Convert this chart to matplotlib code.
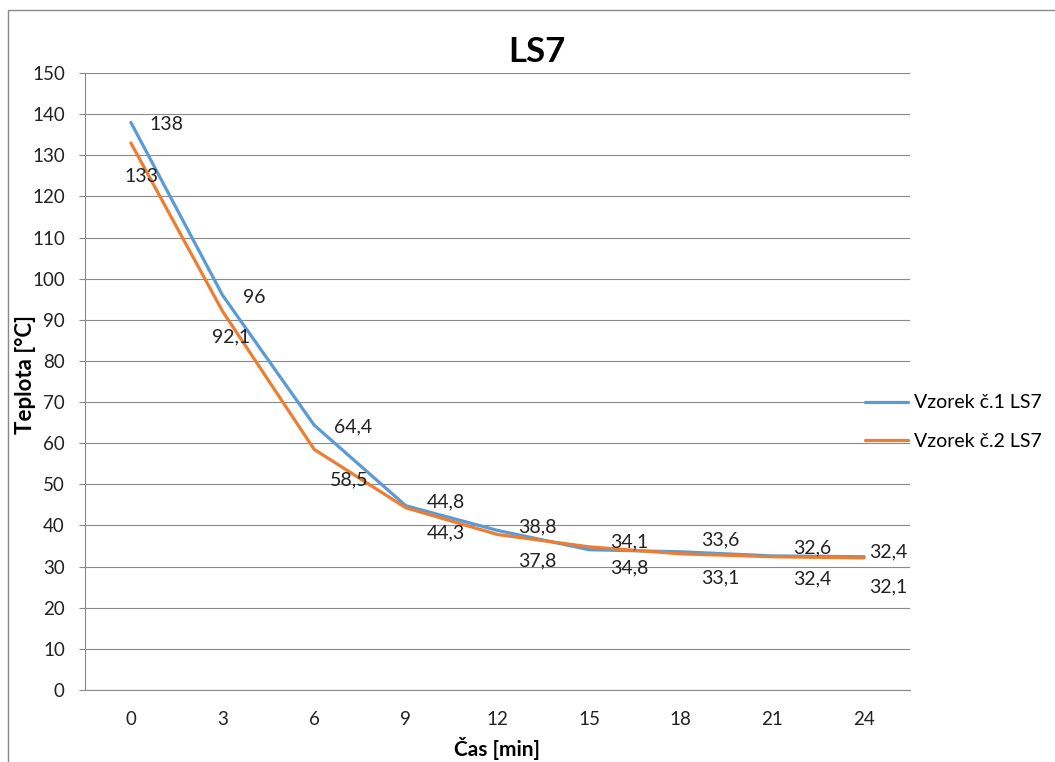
import matplotlib.pyplot as plt
from matplotlib.patches import Rectangle
import numpy as np

plt.rcParams['font.family'] = ['Lato', 'DejaVu Sans']

# data
cas = [0, 3, 6, 9, 12, 15, 18, 21, 24]
vzorek1 = [138, 96, 64.4, 44.8, 38.8, 34.1, 33.6, 32.6, 32.4]
vzorek2 = [133, 92.1, 58.5, 44.3, 37.8, 34.8, 33.1, 32.4, 32.1]
nazvy = ['Vzorek č.1 LS7', 'Vzorek č.2 LS7']

# label offsets in pixels (dx, dy) - styling only
off1 = [(36, -2), (32, -2), (39, -2), (40, 4), (40, 4), (40, 8), (39, 12), (40, 8), (24, 5)]
off2 = [(11, -34), (9, -26), (35, -31), (40, -25), (40, -26), (40, -21), (39, -24), (40, -22), (24, -29)]

W, H = 1055, 762
fig = plt.figure(figsize=(W / 100, H / 100), dpi=100)
ax = fig.add_axes([85 / W, 72 / H, 825 / W, 617 / H])

grey = '#898989'
barvy = ['#5B9BD5', '#ED7D31']
x = np.arange(len(cas))

for vals, barva, nazev, offs in zip([vzorek1, vzorek2], barvy, nazvy, [off1, off2]):
    ax.plot(x, vals, color=barva, lw=2.3, label=nazev, solid_capstyle='round')
    for xi, v, (dx, dy) in zip(x, vals, offs):
        txt = f'{v:g}'.replace('.', ',')
        ax.annotate(txt, (xi, v), xytext=(dx, dy), textcoords='offset pixels',
                    ha='center', va='center', fontsize=14, color='#222222')

ax.set_xlim(-0.5, len(cas) - 0.5)
ax.set_ylim(0, 150)
ax.set_yticks(range(0, 151, 10))
ax.set_xticks(x)
ax.set_xticklabels([str(c) for c in cas])
ax.grid(axis='y', color=grey, lw=0.8)
ax.set_axisbelow(True)
for s in ['top', 'right']:
    ax.spines[s].set_visible(False)
for s in ['left', 'bottom']:
    ax.spines[s].set_color(grey)
    ax.spines[s].set_linewidth(0.8)
ax.tick_params(axis='y', length=4.5, color=grey, pad=10, labelsize=13.5, labelcolor='#222222')
ax.tick_params(axis='x', length=0, pad=15, labelsize=13.5, labelcolor='#222222')

fig.text(537 / W, 1 - 52 / H, 'LS7', fontsize=25, fontweight='bold', ha='center', va='center')
fig.text(26 / W, 1 - 374 / H, 'Teplota [°C]', fontsize=16, fontweight='bold',
         rotation=90, ha='center', va='center')
fig.text(497 / W, 1 - 749 / H, 'Čas [min]', fontsize=15, fontweight='bold',
         ha='center', va='center')

fig.legend(loc='center left', bbox_to_anchor=(865 / W, 1 - 422 / H), frameon=False,
           fontsize=14, handlelength=2.2, handletextpad=0.3, labelspacing=1.1,
           borderpad=0, borderaxespad=0)

fig.patches.append(Rectangle((8 / W, -0.05), 1.1, 1 - 10 / H + 0.05, transform=fig.transFigure,
                             fill=False, edgecolor=grey, lw=1))

fig.savefig('out.png', dpi=100)
